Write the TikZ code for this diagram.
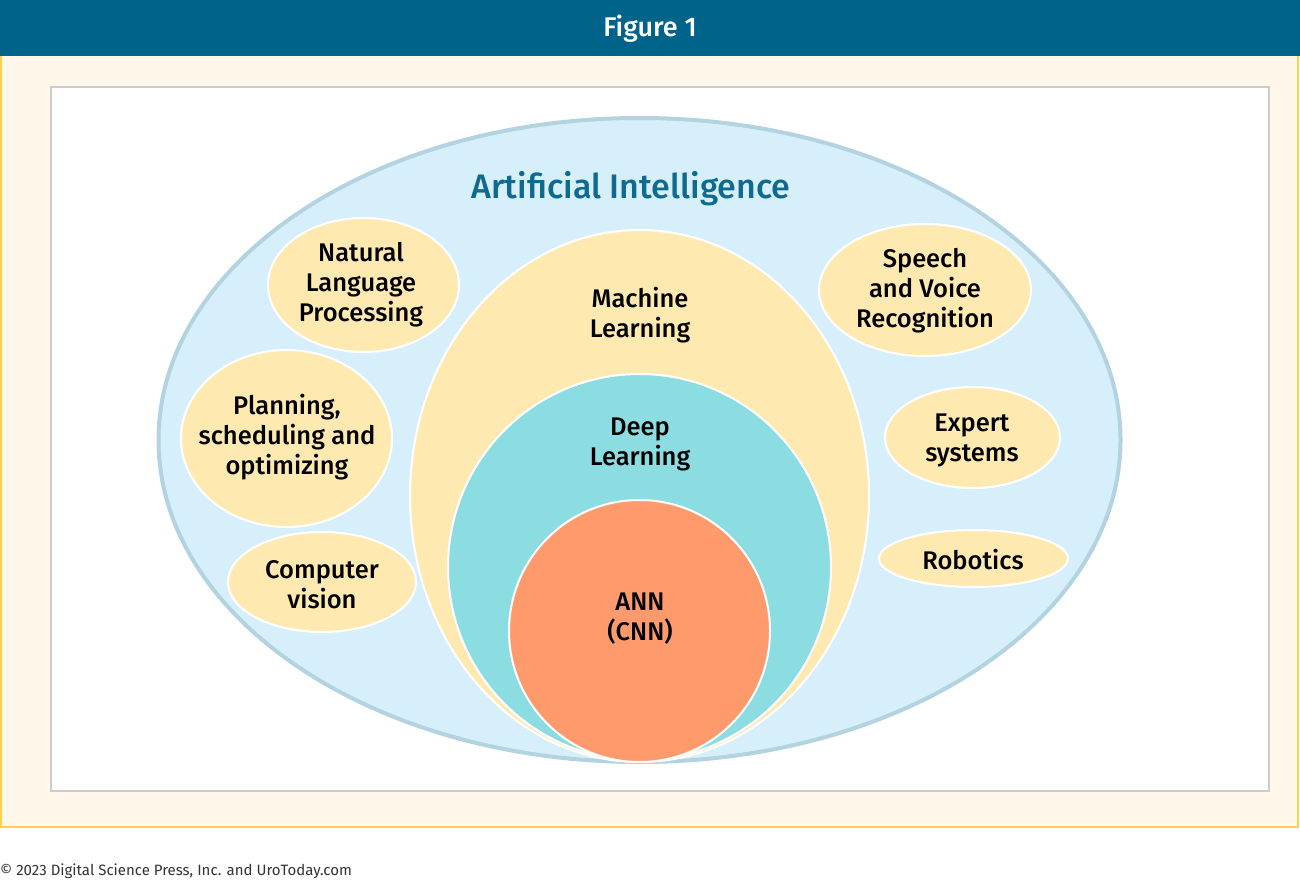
\documentclass[tikz,border=0pt]{standalone}
\usepackage{fontspec}
\setmainfont{Fira Sans}[BoldFont={* Medium}]
\begin{document}
\begin{tikzpicture}[x=1pt,y=-1pt,
  lbl/.style={align=center,font=\fontsize{25.5}{30}\selectfont\bfseries,text=black,inner sep=0pt},
  blob/.style={fill=ellfill,draw=white,line width=2pt}]
\definecolor{hdr}{HTML}{00638A}
\definecolor{frame}{HTML}{FFF8EA}
\definecolor{frameline}{HTML}{FFD24A}
\definecolor{aifill}{HTML}{D7EFFB}
\definecolor{ailine}{HTML}{B2D3DF}
\definecolor{ellfill}{HTML}{FEE9B1}
\definecolor{dlfill}{HTML}{8CDDE1}
\definecolor{annfill}{HTML}{FF9A6C}
\definecolor{aitext}{HTML}{0E6A8E}
\useasboundingbox (0,0) rectangle (1300,880);
% header and frame
\fill[hdr] (0,0) rectangle (1300,56);
\fill[frame] (0,56) rectangle (1299,828);
\draw[frameline,line width=2pt] (1,56) -- (1,827) -- (1298,827) -- (1298,56);
\draw[fill=white,draw=black!20,line width=2pt] (51,87) rectangle (1269,791);
\node[text=white,font=\fontsize{27}{30}\selectfont\bfseries] (fig) at (650,29) {Figure 1};
% AI ellipse
\draw[fill=aifill,draw=ailine,line width=4pt] (639.5,440) ellipse [x radius=481pt,y radius=322pt];
\node[text=aitext,font=\fontsize{34}{40}\selectfont\bfseries] (ai) at (631,189) {Artificial Intelligence};
% nested
\draw[blob] (639.5,496) ellipse [x radius=229.5pt,y radius=266pt];
\draw[fill=dlfill,draw=white,line width=2pt] (639.5,567) ellipse [x radius=191.5pt,y radius=193pt];
\draw[fill=annfill,draw=white,line width=2pt] (639.5,631) ellipse [x radius=130.5pt,y radius=131pt];
\node[lbl] (ml) at (640,315) {Machine\\Learning};
\node[lbl] (dl) at (640,444) {Deep\\Learning};
\node[lbl] (ann) at (640,619) {ANN\\(CNN)};
% side ellipses
\draw[blob] (363.5,285) ellipse [x radius=95.5pt,y radius=67pt];
\draw[blob] (286.5,438.5) ellipse [x radius=105.5pt,y radius=88.5pt];
\draw[blob] (322,582) ellipse [x radius=94pt,y radius=50pt];
\draw[blob] (925,290) ellipse [x radius=106pt,y radius=66pt];
\draw[blob] (972.5,437.5) ellipse [x radius=87.5pt,y radius=50.5pt];
\draw[blob] (973.5,558.5) ellipse [x radius=94.5pt,y radius=28.5pt];
\node[lbl] (nlp) at (361,285) {Natural\\Language\\Processing};
\node[lbl] (plan) at (287,437) {Planning,\\scheduling and\\optimizing};
\node[lbl] (cv) at (322,585) {Computer\\vision};
\node[lbl] (svr) at (925,291) {Speech\\and Voice\\Recognition};
\node[lbl] (exp) at (972,440) {Expert\\systems};
\node[lbl] (rob) at (973,560) {Robotics};
% footer
\node[anchor=base west,inner sep=0pt,text=black!80,font=\fontsize{15}{18}\selectfont] (foot) at (0,875) {© 2023 Digital Science Press, Inc. and UroToday.com};
\end{tikzpicture}
\end{document}
